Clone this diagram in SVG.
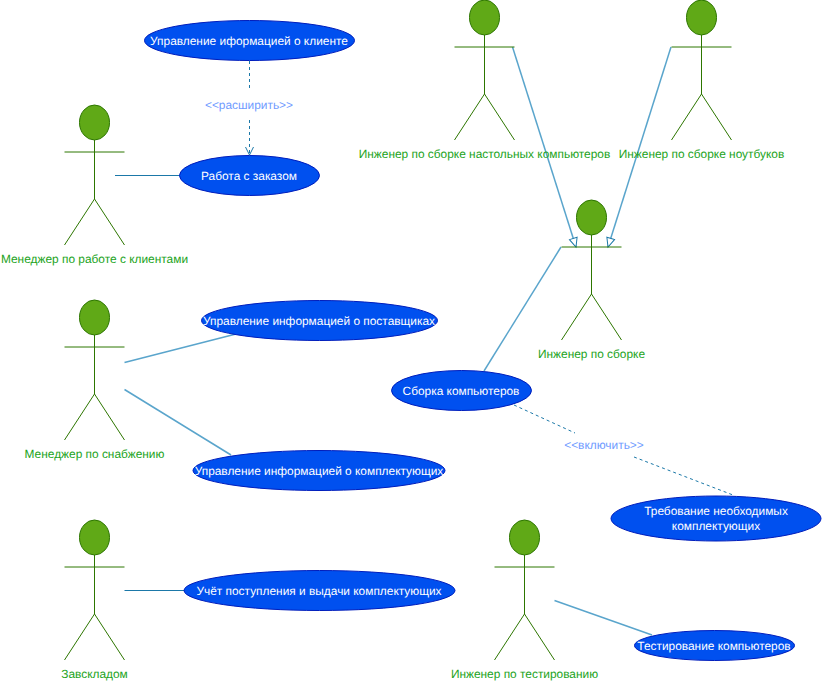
<svg xmlns="http://www.w3.org/2000/svg" width="822" height="682" viewBox="0 0 822 682">
<style>
text{font-family:"Liberation Sans",Arial,sans-serif;font-size:11.9px;text-anchor:middle;text-rendering:geometricPrecision}
.uc ellipse{fill:#0050ef;stroke:#001dbc;stroke-width:1}
.uc text{fill:#fff}
.a text{fill:#1ba31b}
.head{fill:#60a917;stroke:#2d7600;stroke-width:1}
.fig{fill:none;stroke:#2d7600;stroke-width:1}
.c path{fill:none;stroke:#5aa5cc;stroke-width:1.5}
.c path.d{stroke:#1b78a8;stroke-width:1}
.c path.dash{stroke-dasharray:3 3;stroke:#1b78a8;stroke-width:1}
.c text{fill:#6f9bff}
</style>
<defs>
<marker id="open" markerUnits="userSpaceOnUse" markerWidth="12" markerHeight="12" refX="9" refY="5" orient="auto"><path d="M1 1L9 5L1 9" fill="none" stroke="#1b78a8" stroke-width="1"/></marker>
<marker id="tri" markerUnits="userSpaceOnUse" markerWidth="12" markerHeight="12" refX="10" refY="5" orient="auto"><path d="M1 1L10 5L1 9Z" fill="#fff" stroke="#1b78a8" stroke-width="1"/></marker>
<g id="fig"><ellipse class="head" cx="0" cy="17.5" rx="15" ry="17.5"/><path class="fig" d="M0 35V94M-30 47H30M-30 140L0 94L30 140"/></g>
</defs>
<g id="connectors" class="c">
<path class="dash" d="M249.500 61V91"/>
<path class="dash" d="M249.500 120V155" marker-end="url(#open)"/>
<path class="d" d="M115 175.500H180"/>
<path d="M124.500 362.500L236 334"/>
<path d="M124.500 389.500L231 455"/>
<path class="d" d="M124.500 590.500H185"/>
<path d="M554.500 600.500L652 635"/>
<path d="M512.500 47L576 247" marker-end="url(#tri)"/>
<path d="M671 47L608 247" marker-end="url(#tri)"/>
<path d="M561 247L484 371"/>
<path class="dash" d="M514 405L575 433"/>
<path class="dash" d="M634 457L733 495"/>
<text x="249" y="109">&lt;&lt;расширить&gt;&gt;</text>
<text x="604" y="449">&lt;&lt;включить&gt;&gt;</text>
</g>
<g id="uc1" class="uc"><ellipse cx="249.500" cy="40.500" rx="105" ry="20"/><text x="249" y="44.500">Управление иформацией о клиенте</text></g>
<g id="uc2" class="uc"><ellipse cx="249.500" cy="175.500" rx="70" ry="20"/><text x="249" y="179.500">Работа с заказом</text></g>
<g id="uc3" class="uc"><ellipse cx="319.500" cy="320.500" rx="118" ry="20"/><text x="319" y="324.500">Управление информацией о поставщиках</text></g>
<g id="uc4" class="uc"><ellipse cx="319" cy="470.500" rx="126" ry="20"/><text x="319" y="474.500">Управление информацией о комплектующих</text></g>
<g id="uc5" class="uc"><ellipse cx="319.500" cy="590.500" rx="135.500" ry="20"/><text x="319" y="594.500">Учёт поступления и выдачи комплектующих</text></g>
<g id="uc6" class="uc"><ellipse cx="461.500" cy="390.500" rx="70" ry="20"/><text x="461" y="394.500">Сборка компьютеров</text></g>
<g id="uc7" class="uc"><ellipse cx="716" cy="518.500" rx="105" ry="22.500"/><text x="716" y="515">Требование необходимых</text><text x="716" y="530">комплектующих</text></g>
<g id="uc8" class="uc"><ellipse cx="714.500" cy="645.500" rx="80" ry="15"/><text x="714" y="649.500">Тестирование компьютеров</text></g>
<g id="a1" class="a"><use href="#fig" transform="translate(94.500 105)"/><text x="94.500" y="263">Менеджер по работе с клиентами</text></g>
<g id="a2" class="a"><use href="#fig" transform="translate(94.500 300)"/><text x="94.500" y="458">Менеджер по снабжению</text></g>
<g id="a3" class="a"><use href="#fig" transform="translate(94.500 520)"/><text x="94.500" y="678">Завскладом</text></g>
<g id="a4" class="a"><use href="#fig" transform="translate(484.500 0)"/><text x="484.500" y="158">Инженер по сборке настольных компьютеров</text></g>
<g id="a5" class="a"><use href="#fig" transform="translate(701.500 0)"/><text x="701.500" y="158">Инженер по сборке ноутбуков</text></g>
<g id="a6" class="a"><use href="#fig" transform="translate(591.500 200)"/><text x="591.500" y="358">Инженер по сборке</text></g>
<g id="a7" class="a"><use href="#fig" transform="translate(524.500 520)"/><text x="524.500" y="678">Инженер по тестированию</text></g>
</svg>
